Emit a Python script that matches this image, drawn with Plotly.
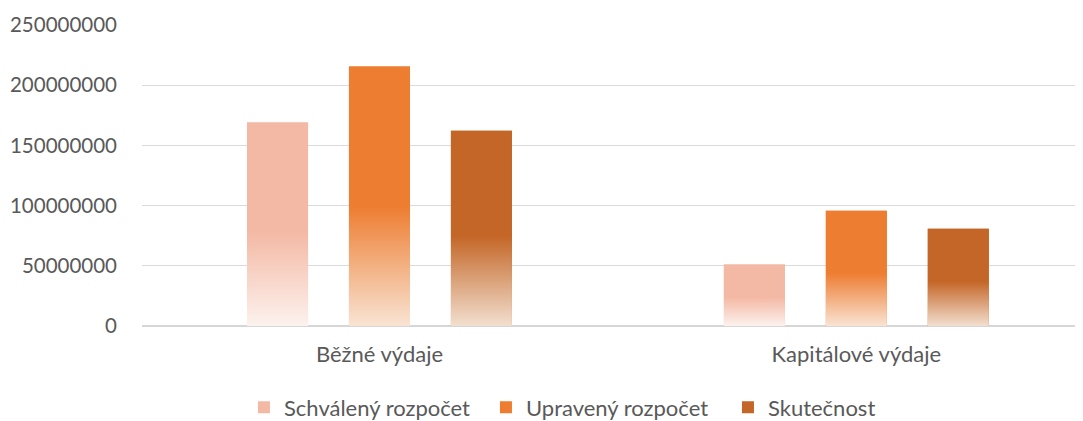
import plotly.graph_objects as go

# ---- data ----
categories = ["Běžné výdaje", "Kapitálové výdaje"]
series_names = ["Schválený rozpočet", "Upravený rozpočet", "Skutečnost"]
schvaleny = [169000000, 51000000]
upraveny = [215500000, 95700000]
skutecnost = [162200000, 80700000]
series_values = [schvaleny, upraveny, skutecnost]
y_tick_values = [0, 50000000, 100000000, 150000000, 200000000, 250000000]
y_tick_labels = ["0", "50000000", "100000000", "150000000", "200000000", "250000000"]

# ---- styles ----
solid_colors = ["#F4B9A5", "#ED7D31", "#C46627"]
light_colors = ["#FCF2EE", "#F9E4D4", "#F2DFCF"]
bar_offsets = [-0.2138, 0.0, 0.2138]
bar_width = 0.128
font_family = "Lato, 'Open Sans', sans-serif"
text_color = "#595959"

positions = list(range(len(categories)))

fig = go.Figure()
# solid bars (carry the legend)
for s, (name, vals) in enumerate(zip(series_names, series_values)):
    fig.add_trace(go.Bar(
        x=positions,
        y=vals,
        width=bar_width,
        offset=bar_offsets[s] - bar_width / 2,
        marker=dict(color=solid_colors[s], line=dict(width=0)),
        name=name,
        legendgroup=name,
        hoverinfo="skip",
    ))
# gradient fill over each bar, same geometry
for s, (name, vals) in enumerate(zip(series_names, series_values)):
    for c, v in zip(positions, vals):
        x0 = c + bar_offsets[s] - bar_width / 2
        x1 = c + bar_offsets[s] + bar_width / 2
        fig.add_trace(go.Scatter(
            x=[x0, x0, x1, x1, x0],
            y=[0, v, v, 0, 0],
            mode="none",
            fill="toself",
            fillcolor=solid_colors[s],
            fillgradient=dict(
                type="vertical",
                colorscale=[[0, light_colors[s]], [0.46, solid_colors[s]], [1, solid_colors[s]]],
            ),
            name=name,
            legendgroup=name,
            showlegend=False,
            hoverinfo="skip",
        ))

fig.update_layout(
    width=1075,
    height=413,
    margin=dict(l=134, r=3, t=17, b=95),
    paper_bgcolor="white",
    plot_bgcolor="white",
    barmode="overlay",
    font=dict(family=font_family, color=text_color),
    legend=dict(
        orientation="h",
        xref="paper", x=0.1087, xanchor="left",
        yref="container", y=0.033, yanchor="middle",
        font=dict(size=22, color=text_color),
        entrywidth=197,
        entrywidthmode="pixels",
        traceorder="normal",
    ),
    showlegend=True,
)
fig.update_xaxes(
    range=[-0.498, 1.469],
    tickmode="array",
    tickvals=positions,
    ticktext=categories,
    showgrid=False,
    zeroline=False,
    showline=False,
    ticks="",
    automargin=False,
    tickfont=dict(size=22, color=text_color),
    ticklabelstandoff=13,
)
fig.update_yaxes(
    range=[0, 250000000],
    tickmode="array",
    tickvals=y_tick_values,
    ticktext=y_tick_labels,
    showgrid=True,
    gridcolor="#DADADA",
    gridwidth=1.3,
    zeroline=True,
    zerolinecolor="#D6D6D6",
    zerolinewidth=1.6,
    showline=False,
    ticks="",
    automargin=False,
    tickfont=dict(size=20.5, color=text_color),
    ticklabelstandoff=24,
)

fig.write_html("out.html")
